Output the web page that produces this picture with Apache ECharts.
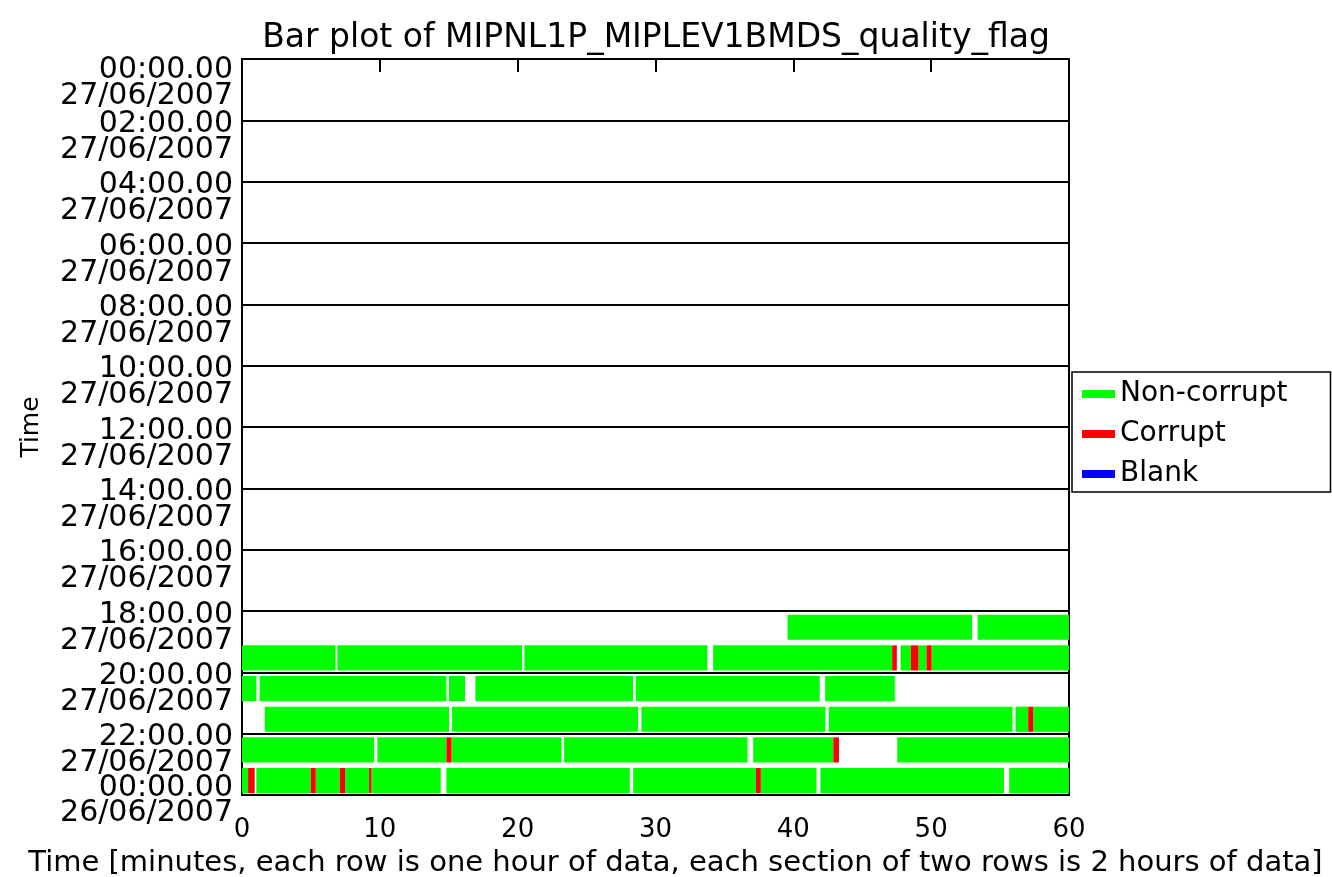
<!DOCTYPE html>
<html>
<head>
<meta charset="utf-8">
<script src="https://cdn.jsdelivr.net/npm/echarts@6/dist/echarts.min.js"></script>
<style>
html,body{margin:0;padding:0;background:#fff;}
#chart{width:1332px;height:877px;}
</style>
</head>
<body>
<div id="chart"></div>
<script>
// ---- data ----
const titleText = 'Bar plot of MIPNL1P_MIPLEV1BMDS_quality_flag';
const xAxisTitle = 'Time [minutes, each row is one hour of data, each section of two rows is 2 hours of data]';
const yAxisTitle = 'Time';
const xTicks = [0, 10, 20, 30, 40, 50, 60];
const yTickTimes = ['00:00.00', '02:00.00', '04:00.00', '06:00.00', '08:00.00', '10:00.00',
  '12:00.00', '14:00.00', '16:00.00', '18:00.00', '20:00.00', '22:00.00', '00:00.00'];
const yTickDates = ['27/06/2007', '27/06/2007', '27/06/2007', '27/06/2007', '27/06/2007', '27/06/2007',
  '27/06/2007', '27/06/2007', '27/06/2007', '27/06/2007', '27/06/2007', '27/06/2007', '26/06/2007'];
const flagNames = ['Non-corrupt', 'Corrupt', 'Blank'];
const flagColors = ['#00ff00', '#ff0000', '#0000ff'];
// [row (hour index from top), start minute, end minute]
const nonCorrupt = [
  [18, 39.58, 52.97], [18, 53.37, 60],
  [19, 0, 6.78], [19, 6.92, 20.32], [19, 20.49, 33.77], [19, 34.18, 47.17],
  [19, 47.78, 48.53], [19, 49.08, 49.66], [19, 50.03, 60],
  [20, 0, 1.04], [20, 1.28, 14.83], [20, 15.02, 16.18], [20, 16.93, 28.37],
  [20, 28.57, 41.92], [20, 42.31, 47.36],
  [21, 1.65, 15.02], [21, 15.24, 28.74], [21, 28.98, 42.33], [21, 42.57, 55.9],
  [21, 56.12, 57.04], [21, 57.4, 60],
  [22, 0, 9.58], [22, 9.82, 14.83], [22, 15.2, 23.18], [22, 23.37, 36.68],
  [22, 37.09, 42.9], [22, 47.54, 60],
  [23, 0, 0.44], [23, 1.04, 4.99], [23, 5.35, 7.09], [23, 7.48, 9.22],
  [23, 9.39, 14.42], [23, 14.83, 28.14], [23, 28.38, 37.28], [23, 37.64, 41.68],
  [23, 41.97, 55.28], [23, 55.66, 60]
];
const corrupt = [
  [19, 47.17, 47.51], [19, 48.53, 49.08], [19, 49.66, 50.03],
  [21, 57.04, 57.4],
  [22, 14.83, 15.2], [22, 42.9, 43.31],
  [23, 0.44, 0.92], [23, 4.99, 5.35], [23, 7.09, 7.48], [23, 9.22, 9.39], [23, 37.28, 37.64]
];
const blank = [];

// ---- chart ----
const FONT = 'DejaVu Sans';
const chart = echarts.init(document.getElementById('chart'), null, {renderer: 'canvas'});

function renderSeg(params, api) {
  const row = api.value(0);
  const s = api.value(1), e = api.value(2);
  const p0 = api.coord([s, row + 0.12]);
  const p1 = api.coord([e, row + 0.94]);
  return {
    type: 'rect',
    shape: {x: p0[0], y: p0[1], width: p1[0] - p0[0], height: p1[1] - p0[1]},
    style: {fill: api.visual('color')}
  };
}

const seriesData = [nonCorrupt, corrupt, blank];
const series = flagNames.map((name, i) => ({
  name: name,
  type: 'custom',
  renderItem: renderSeg,
  itemStyle: {color: flagColors[i]},
  encode: {x: [1, 2], y: 0},
  xAxisIndex: 0, yAxisIndex: 0,
  data: seriesData[i],
  z: 5,
  silent: true
}));

const labelFont = {fontFamily: FONT, fontSize: 30, color: '#000', align: 'right'};
const lastIdx = yTickTimes.length - 1;
function posKey(i) { return i === 0 ? 'a' : (i === lastIdx ? 'c' : 'b'); }

const yBase = {
  type: 'value', min: 0, max: 24, interval: 2, inverse: true, position: 'left', offset: 0,
  axisLine: {show: false},
  axisTick: {show: false}
};

chart.setOption({
  animation: false,
  backgroundColor: '#ffffff',
  title: {
    text: titleText,
    left: 651, top: 17, textAlign: 'center',
    textStyle: {fontFamily: FONT, fontSize: 33, fontWeight: 'normal', color: '#000'}
  },
  legend: {
    orient: 'vertical',
    left: 1072, top: 372,
    data: flagNames,
    icon: 'rect',
    itemWidth: 33, itemHeight: 8, itemGap: 12,
    padding: [8, 43, 4, 10],
    borderColor: '#000', borderWidth: 1.5,
    selectedMode: false,
    textStyle: {fontFamily: FONT, fontSize: 28, color: '#000'}
  },
  grid: {
    left: 242, right: 263, top: 59, bottom: 82,
    outerBoundsMode: 'none', containLabel: false,
    show: true, borderColor: '#000', borderWidth: 2, backgroundColor: 'transparent'
  },
  xAxis: [{
    type: 'value', min: 0, max: 60, interval: 10, position: 'bottom',
    name: xAxisTitle, nameLocation: 'middle', nameGap: 54,
    nameTextStyle: {fontFamily: FONT, fontSize: 29, color: '#000', padding: [0, 0, 0, 40]},
    axisLine: {show: false},
    axisTick: {show: false},
    axisLabel: {fontFamily: FONT, fontSize: 26, color: '#000', margin: 22,
      formatter: v => xTicks.includes(v) ? String(v) : ''},
    splitLine: {show: false}
  }, {
    type: 'value', min: 0, max: 60, interval: 10, position: 'top',
    axisLine: {show: false},
    axisTick: {show: true, inside: true, length: 13, lineStyle: {color: '#000', width: 2}},
    axisLabel: {show: false},
    splitLine: {show: false}
  }],
  yAxis: [Object.assign({}, yBase, {
    // time part of each tick label
    name: yAxisTitle, nameLocation: 'middle', nameGap: 198, nameRotate: 90,
    nameTextStyle: {fontFamily: FONT, fontSize: 25, color: '#000'},
    axisLabel: {
      margin: 9, verticalAlign: 'top', align: 'right',
      padding: [-13, 0, 0, 0],
      showMinLabel: true, showMaxLabel: true, hideOverlap: false,
      formatter: (v) => {
        const i = Math.round(v / 2);
        return '{' + posKey(i) + '|' + yTickTimes[i] + '}';
      },
      rich: {
        a: Object.assign({}, labelFont, {lineHeight: 48}),
        b: Object.assign({}, labelFont, {lineHeight: 34}),
        c: Object.assign({}, labelFont, {lineHeight: 12})
      }
    },
    splitLine: {show: true, lineStyle: {color: '#000', width: 2}}
  }), Object.assign({}, yBase, {
    // date part of each tick label
    axisLabel: {
      margin: 9, verticalAlign: 'top', align: 'right',
      padding: [16, 0, 0, 0],
      showMinLabel: true, showMaxLabel: true, hideOverlap: false,
      formatter: (v) => {
        const i = Math.round(v / 2);
        return '{' + posKey(i) + '|' + yTickDates[i] + '}';
      },
      rich: {
        a: Object.assign({}, labelFont, {lineHeight: 42}),
        b: Object.assign({}, labelFont, {lineHeight: 28}),
        c: Object.assign({}, labelFont, {lineHeight: 4})
      }
    },
    splitLine: {show: false}
  })],
  series: series
});
</script>
</body>
</html>
